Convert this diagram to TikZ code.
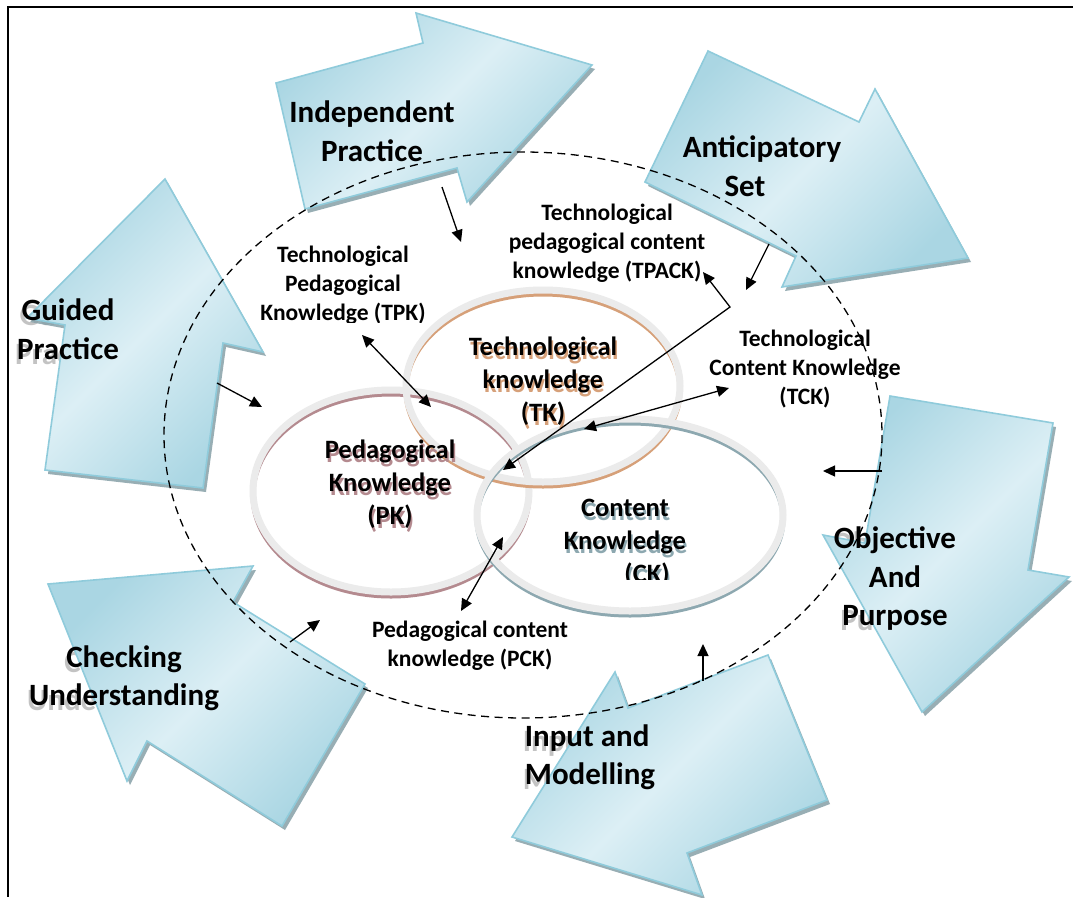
\documentclass[tikz,border=0pt]{standalone}
\usepackage{fontspec}
\setmainfont{Carlito}
\usetikzlibrary{arrows.meta}
\definecolor{arrowlight}{HTML}{DCEFF5}
\definecolor{arrowdark}{HTML}{AAD6E3}
\definecolor{arrowedge}{HTML}{8FCBDB}
\definecolor{arrowshadow}{HTML}{86A0A8}
\definecolor{ringgray}{HTML}{EBEBEB}
\definecolor{tkcol}{HTML}{D6A079}
\definecolor{pkcol}{HTML}{B48A8F}
\definecolor{ckcol}{HTML}{8DA8B0}
\definecolor{ghostgray}{HTML}{9C9C9C}
\tikzset{
  bigarrow/.style={draw=arrowedge, line width=1.6pt, line join=miter,
    left color=arrowdark, right color=arrowdark, middle color=arrowlight, shading angle=45},
  arrowshade/.style={fill=arrowshadow, opacity=0.85},
  biglabel/.style={font=\fontsize{31}{38.5}\selectfont\bfseries, align=center, inner sep=0pt},
  ghostlabel/.style={biglabel, text=ghostgray, opacity=0.6},
  vennlabel/.style={font=\fontsize{26.5}{33}\selectfont\bfseries, inner sep=0pt},
  smalllabel/.style={font=\fontsize{23.5}{28.8}\selectfont\bfseries, align=center, inner sep=0pt},
  link/.style={line width=1.3pt, -{Triangle[length=12pt,width=11pt]}},
  dlink/.style={line width=1.3pt, {Triangle[length=12pt,width=11pt]}-{Triangle[length=12pt,width=11pt]}},
  orbit/.style={line width=1.3pt, dash pattern=on 8pt off 5.5pt}
}
\newcommand\blockarrow[1]{%
  \fill[arrowshade, shift={(3,4)}] #1 -- cycle;
  \draw[bigarrow] #1 -- cycle;}
\newcommand\vennring[5]{%
  \draw[#5, line width=5pt] (#1,#2+4) ellipse [x radius=#3, y radius=#4];
  \draw[ringgray, line width=7pt] (#1,#2) ellipse [x radius=#3, y radius=#4];}
\newcommand\reflected[2]{%
  \rlap{\kern1.5pt\raisebox{-4pt}{\color{#1}\begin{tabular}{@{}c@{}}#2\end{tabular}}}%
  \begin{tabular}{@{}c@{}}#2\end{tabular}}
\begin{document}
\begin{tikzpicture}[x=1pt,y=-1pt]
\useasboundingbox (0,0) rectangle (1073,897);
\fill[white] (0,0) rectangle (1073,897);
% frame
\draw[line width=2pt] (1073,7) -- (8,7) -- (8,897);

% reflections of the big labels (hidden behind the arrows)
\node[ghostlabel] (ipG) at (370,136) {Independent\\Practice};
\node[ghostlabel] (asG) at (760,171) {Anticipatory\\Set\hspace*{1.1em}};
\node[ghostlabel] (gpG) at (66,334) {Guided\\Practice};
\node[ghostlabel] (cuG) at (122,683) {Checking\\Understanding};
\node[ghostlabel] (opG) at (893,584) {Objective\\And\\Purpose};
\node[ghostlabel, align=left] (imG) at (588,762) {Input and\\Modelling};

% block arrows
\blockarrow{(276,83) -- (423,43) -- (416,13) -- (592,65) -- (467,202) -- (457,168) -- (305,209)}
\blockarrow{(708,51) -- (859,122) -- (875,89) -- (968,258) -- (782,287) -- (796,256) -- (645,182)}
\blockarrow{(890,396) -- (1053,423) -- (1028,570) -- (1069,577) -- (922,712) -- (823,535) -- (865,543)}
\blockarrow{(768,655) -- (827,800) -- (687,853) -- (702,895) -- (512,837) -- (615,672) -- (628,708)}
\blockarrow{(365,684) -- (282,826) -- (147,741) -- (127,781) -- (48,584) -- (253,566) -- (233,602)}
\blockarrow{(203,488) -- (45,470) -- (65,325) -- (27,318) -- (165,179) -- (263,352) -- (223,343)}

% dashed orbit
\draw[orbit] (523,435) ellipse [x radius=359, y radius=283];

% Venn rings
\vennring{391}{491}{138}{101}{pkcol}
\vennring{543}{386}{137}{96}{tkcol}
\vennring{630}{515}{153}{96}{ckcol}

% Venn labels with coloured reflections
\node[vennlabel] (tk) at (543,384) {\reflected{tkcol}{Technological\\knowledge\\(TK)}};
\node[vennlabel] (pk) at (390,487) {\reflected{pkcol}{Pedagogical\\Knowledge\\(PK)}};
\begin{scope}
\clip (0,0) rectangle (1073,579);
\node[vennlabel] (ck) at (625,545) {\reflected{ckcol}{Content\\Knowledge\\\hspace*{44pt}(CK)}};
\end{scope}

% small labels
\begin{scope}
\clip (0,0) rectangle (1073,322);
\node[smalllabel] (tpk) at (343,285) {Technological\\Pedagogical\\Knowledge (TPK)};
\end{scope}
\node[smalllabel] (tpack) at (607,243) {Technological\\pedagogical content\\knowledge (TPACK)};
\begin{scope}
\clip (0,0) rectangle (900,897);
\node[smalllabel] (tck) at (805,369) {Technological\\Content Knowledge\\(TCK)};
\end{scope}
\begin{scope}
\clip (0,0) rectangle (567,897);
\node[smalllabel] (pck) at (470,646) {Pedagogical content\\knowledge (PCK)};
\end{scope}

% big labels
\node[biglabel] (ip) at (372,131) {Independent\\Practice};
\node[biglabel] (as) at (762,166) {Anticipatory\\Set\hspace*{1.1em}};
\node[biglabel] (gp) at (68,329) {Guided\\Practice};
\node[biglabel] (cu) at (124,678) {Checking\\Understanding};
\node[biglabel] (op) at (895,579) {Objective\\And\\Purpose};
\node[biglabel, align=left] (im) at (590,757) {Input and\\Modelling};

% connector end points
\coordinate (ipS) at (442,187);  \coordinate (ipE) at (461,242);
\coordinate (asS) at (769,244);  \coordinate (asE) at (746,290);
\coordinate (gpS) at (217,383);  \coordinate (gpE) at (262,407);
\coordinate (cuS) at (290,642);  \coordinate (cuE) at (320,620);
\coordinate (imS) at (703,681);  \coordinate (imE) at (703,644);
\coordinate (opS) at (882,471);  \coordinate (opE) at (823,471);
\coordinate (tpkA) at (362,335); \coordinate (tpkB) at (431,407);
\coordinate (tckA) at (729,388); \coordinate (tckB) at (584,429);
\coordinate (pckA) at (503,537); \coordinate (pckB) at (461,611);
\coordinate (tpackA) at (703,272); \coordinate (tpackM) at (730,307); \coordinate (tpackB) at (503,470);

% connectors
\draw[link] (ipS) -- (ipE);
\draw[link] (asS) -- (asE);
\draw[link] (gpS) -- (gpE);
\draw[link] (cuS) -- (cuE);
\draw[link] (imS) -- (imE);
\draw[link] (opS) -- (opE);
\draw[dlink] (tpkA) -- (tpkB);
\draw[dlink] (tckA) -- (tckB);
\draw[dlink] (pckA) -- (pckB);
\draw[dlink] (tpackA) -- (tpackM) -- (tpackB);
\end{tikzpicture}
\end{document}
